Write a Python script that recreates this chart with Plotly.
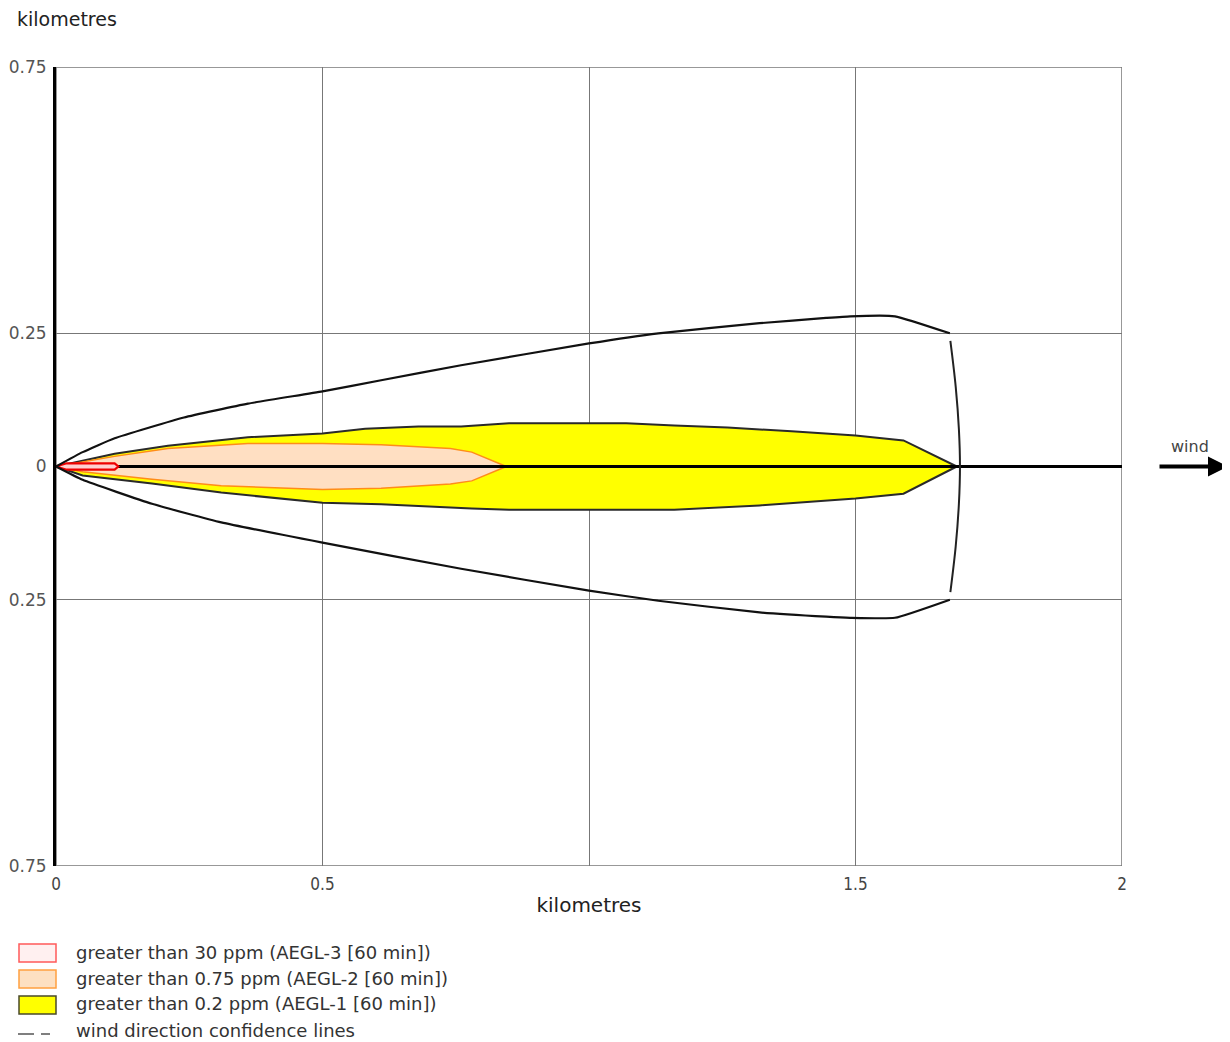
import plotly.graph_objects as go

# ---- data (km) ----
conf_upper_x = [0, 0.05, 0.11, 0.24, 0.36, 0.50, 0.61, 0.76, 1.00, 1.13, 1.32, 1.445, 1.49, 1.574, 1.677]
conf_upper_y = [0, 0.027, 0.053, 0.092, 0.118, 0.141, 0.162, 0.190, 0.231, 0.250, 0.269, 0.279, 0.282, 0.282, 0.250]
conf_lower_x = [0, 0.05, 0.18, 0.31, 0.50, 0.76, 1.00, 1.13, 1.32, 1.445, 1.49, 1.574, 1.677]
conf_lower_y = [0, -0.025, -0.070, -0.105, -0.143, -0.192, -0.233, -0.252, -0.274, -0.282, -0.284, -0.284, -0.250]
arc_x = [1.678, 1.688, 1.694, 1.696, 1.694, 1.688, 1.678]
arc_y = [0.236, 0.150, 0.070, 0.0, -0.070, -0.150, -0.236]

aegl1_x = [0, 0.11, 0.21, 0.36, 0.50, 0.58, 0.68, 0.76, 0.85, 1.07, 1.16, 1.26, 1.38, 1.50, 1.59, 1.69,
           1.59, 1.50, 1.32, 1.16, 0.85, 0.78, 0.61, 0.50, 0.31, 0.18, 0.05, 0]
aegl1_y = [0, 0.024, 0.039, 0.055, 0.062, 0.071, 0.075, 0.075, 0.081, 0.081, 0.077, 0.073, 0.066, 0.058, 0.049, 0,
           -0.051, -0.060, -0.073, -0.081, -0.081, -0.079, -0.071, -0.068, -0.049, -0.032, -0.017, 0]

aegl2_x = [0, 0.11, 0.21, 0.36, 0.50, 0.61, 0.74, 0.78, 0.845, 0.78, 0.74, 0.61, 0.50, 0.31, 0.18, 0.05, 0]
aegl2_y = [0, 0.019, 0.034, 0.043, 0.043, 0.041, 0.034, 0.027, 0, -0.027, -0.033, -0.041, -0.043, -0.036, -0.024, -0.010, 0]

aegl3_x = [0, 0.02, 0.11, 0.117, 0.11, 0.02, 0]
aegl3_y = [0, 0.006, 0.006, 0, -0.006, -0.006, 0]

centre_x = [0, 2]
centre_y = [0, 0]

x_tickvals = [0, 0.5, 1, 1.5, 2]
x_ticktext = ["0", "0.5", "", "1.5", "2"]
y_tickvals = [0.75, 0.25, 0, -0.25, -0.75]
y_ticktext = ["0.75", "0.25", "0", "0.25", "0.75"]

legend_labels = [
    "greater than 30 ppm (AEGL-3 [60 min])",
    "greater than 0.75 ppm (AEGL-2 [60 min])",
    "greater than 0.2 ppm (AEGL-1 [60 min])",
    "wind direction confidence lines",
]

# ---- figure (page body has an 8px margin) ----
OFF = 8
W, H = 1222, 1034
L, T = 56 - OFF, 67 - OFF
R = W - (1122 - OFF)
B = H - (866 - OFF)
PW, PH = W - L - R, H - T - B

def px_x(px):
    return (px - OFF - L) / PW

def px_y(py):
    return (H - B - (py - OFF)) / PH

fig = go.Figure()

fig.add_trace(go.Scatter(x=aegl1_x, y=aegl1_y, mode="lines", fill="toself",
                         fillcolor="#ffff00", line=dict(color="#2a2a2a", width=2),
                         hoverinfo="skip"))
fig.add_trace(go.Scatter(x=aegl2_x, y=aegl2_y, mode="lines", fill="toself",
                         fillcolor="#ffdfc2", line=dict(color="#ff8c1a", width=1.5),
                         hoverinfo="skip"))
fig.add_trace(go.Scatter(x=centre_x, y=centre_y, mode="lines",
                         line=dict(color="#000000", width=3), hoverinfo="skip"))
fig.add_trace(go.Scatter(x=aegl3_x, y=aegl3_y, mode="lines", fill="toself",
                         fillcolor="#ffd0d0", line=dict(color="#ee0000", width=2.2),
                         hoverinfo="skip"))
fig.add_trace(go.Scatter(x=conf_upper_x, y=conf_upper_y, mode="lines",
                         line=dict(color="#111111", width=2.2, shape="spline", smoothing=0.4),
                         hoverinfo="skip"))
fig.add_trace(go.Scatter(x=conf_lower_x, y=conf_lower_y, mode="lines",
                         line=dict(color="#111111", width=2.2, shape="spline", smoothing=0.4),
                         hoverinfo="skip"))
fig.add_trace(go.Scatter(x=arc_x, y=arc_y, mode="lines",
                         line=dict(color="#222222", width=2, shape="spline"),
                         hoverinfo="skip"))

shapes = []
# plot frame
shapes.append(dict(type="rect", xref="x", yref="y", x0=0, x1=2, y0=-0.75, y1=0.75,
                   line=dict(color="#777777", width=1.5), layer="below"))
# legend swatches
sw = [
    (944, 962, "#ff5a5a", "#fff0f0"),
    (970, 988, "#ffa040", "#fde0c2"),
    (996, 1014, "#4a4a2a", "#ffff00"),
]
for (y0, y1, lc, fc) in sw:
    shapes.append(dict(type="rect", xref="paper", yref="paper",
                       x0=px_x(19), x1=px_x(56), y0=px_y(y1), y1=px_y(y0),
                       line=dict(color=lc, width=1.5), fillcolor=fc))
shapes.append(dict(type="line", xref="paper", yref="paper",
                   x0=px_x(18), x1=px_x(34), y0=px_y(1034), y1=px_y(1034),
                   line=dict(color="#555555", width=1.5)))
shapes.append(dict(type="line", xref="paper", yref="paper",
                   x0=px_x(41), x1=px_x(50), y0=px_y(1034), y1=px_y(1034),
                   line=dict(color="#555555", width=1.5)))

annotations = []
for i, lab in enumerate(legend_labels):
    yc = [952, 978, 1004, 1030][i]
    annotations.append(dict(text=lab, xref="paper", yref="paper", x=px_x(74), y=px_y(yc),
                            xanchor="left", yanchor="middle", showarrow=False,
                            font=dict(family="DejaVu Sans", size=18, color="#333333")))
annotations.append(dict(text="kilometres", xref="paper", yref="paper", x=px_x(15), y=px_y(19),
                        xanchor="left", yanchor="middle", showarrow=False,
                        font=dict(family="DejaVu Sans", size=19, color="#222222")))
annotations.append(dict(text="wind", xref="paper", yref="paper", x=px_x(1190), y=px_y(447),
                        xanchor="center", yanchor="middle", showarrow=False,
                        font=dict(family="DejaVu Sans", size=16, color="#444444")))
annotations.append(dict(text="", xref="paper", yref="y", x=px_x(1228), y=0,
                        ax=-70, ay=0, showarrow=True, arrowhead=2, arrowsize=1,
                        arrowwidth=4, arrowcolor="#000000"))

fig.update_layout(
    width=W, height=H,
    margin=dict(l=L, r=R, t=T, b=B, autoexpand=False),
    paper_bgcolor="white", plot_bgcolor="white",
    showlegend=False,
    shapes=shapes, annotations=annotations,
    xaxis=dict(range=[0, 2], tickvals=x_tickvals, ticktext=x_ticktext,
               showgrid=True, gridcolor="#777777", gridwidth=1, zeroline=False,
               showline=False, ticks="", ticklen=0, ticklabelstandoff=6,
               tickfont=dict(family="DejaVu Sans Condensed, DejaVu Sans", size=17, color="#444444"),
               title=dict(text="kilometres", font=dict(family="DejaVu Sans", size=20, color="#222222"),
                          standoff=4)),
    yaxis=dict(range=[-0.75, 0.75], tickvals=y_tickvals, ticktext=y_ticktext,
               showgrid=True, gridcolor="#777777", gridwidth=1, zeroline=False,
               showline=True, linecolor="#000000", linewidth=3, ticks="", ticklen=0,
               ticklabelstandoff=3,
               tickfont=dict(family="DejaVu Sans", size=17, color="#555555")),
)

fig.write_html("out.html")
